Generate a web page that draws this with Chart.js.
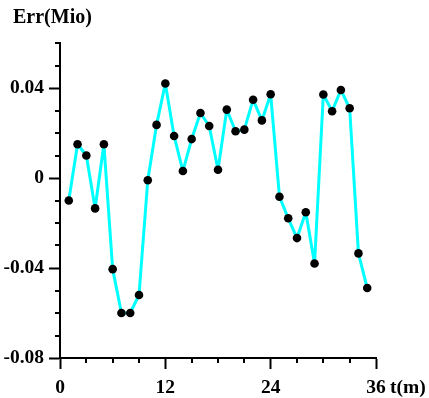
<!DOCTYPE html>
<html>
<head>
<meta charset="utf-8">
<script src="https://cdn.jsdelivr.net/npm/chart.js@4/dist/chart.umd.min.js"></script>
<style>
html,body{margin:0;padding:0;background:#fff;}
canvas{display:block;}
</style>
</head>
<body>
<canvas id="c" width="429" height="398"></canvas>
<script>
// ---- data ----
const tValues = [1,2,3,4,5,6,7,8,9,10,11,12,13,14,15,16,17,18,19,20,21,22,23,24,25,26,27,28,29,30,31,32,33,34,35];
const errValues = [-0.010, 0.015, 0.010, -0.0135, 0.015, -0.0405, -0.060, -0.060, -0.052, -0.001,
                   0.0236, 0.042, 0.0187, 0.0031, 0.0173, 0.0289, 0.0231, 0.0037, 0.0304, 0.0208,
                   0.0215, 0.0348, 0.0256, 0.0372, -0.0083, -0.0179, -0.0267, -0.0152, -0.038, 0.0371,
                   0.0297, 0.0391, 0.031, -0.0335, -0.0489];
const xMajorTicks = [0, 12, 24, 36];
const yMajorTicks = [-0.08, -0.04, 0, 0.04];
const xMinorTicks = [3, 6, 9, 15, 18, 21, 27, 30, 33];
const yMinorTicks = [-0.07, -0.06, -0.05, -0.03, -0.02, -0.01, 0.01, 0.02, 0.03, 0.05, 0.06];
const yTitle = 'Err(Mio)';
const xTitle = 't(m)';

const FONT_FAMILY = '"Liberation Serif", "Times New Roman", serif';
const FS = 19.5;

const points = tValues.map((t, i) => ({x: t, y: errValues[i]}));

const extras = {
  id: 'extras',
  afterDraw(chart) {
    const ctx = chart.ctx;
    const xs = chart.scales.x, ys = chart.scales.y;
    const ca = chart.chartArea;
    ctx.save();
    ctx.strokeStyle = '#000';
    ctx.lineWidth = 2;
    ctx.beginPath();
    yMinorTicks.forEach(v => {
      const py = Math.round(ys.getPixelForValue(v)) ;
      ctx.moveTo(ca.left - 5, py);
      ctx.lineTo(ca.left, py);
    });
    xMinorTicks.forEach(v => {
      const px = Math.round(xs.getPixelForValue(v));
      ctx.moveTo(px, ca.bottom);
      ctx.lineTo(px, ca.bottom + 5);
    });
    ctx.stroke();
    ctx.fillStyle = '#000';
    ctx.font = 'bold 20px ' + FONT_FAMILY;
    ctx.textAlign = 'left';
    ctx.textBaseline = 'alphabetic';
    ctx.fillText(yTitle, 13, 23);
    ctx.font = 'bold ' + FS + 'px ' + FONT_FAMILY;
    ctx.fillText(xTitle, xs.getPixelForValue(36) + 14, 393);
    ctx.restore();
  }
};

new Chart(document.getElementById('c'), {
  type: 'line',
  data: {
    datasets: [{
      data: points,
      borderColor: '#00FFFF',
      borderWidth: 3,
      borderJoinStyle: 'round',
      borderCapStyle: 'round',
      pointBackgroundColor: '#000',
      pointBorderColor: '#000',
      pointRadius: 4.3,
      pointBorderWidth: 0,
      tension: 0,
      fill: false
    }]
  },
  options: {
    responsive: false,
    animation: false,
    devicePixelRatio: 1,
    layout: {padding: {top: 43, right: 53, bottom: 0, left: 0}},
    plugins: {legend: {display: false}, tooltip: {enabled: false}, title: {display: false}},
    scales: {
      x: {
        type: 'linear',
        min: 0, max: 36,
        afterBuildTicks: s => { s.ticks = xMajorTicks.map(v => ({value: v})); },
        afterFit: s => { s.height = 40; },
        ticks: {
          color: '#000',
          padding: 7,
          maxRotation: 0,
          autoSkip: false,
          font: {family: FONT_FAMILY, size: FS, weight: 'bold'},
          callback: v => String(v)
        },
        grid: {drawOnChartArea: false, tickLength: 11, tickColor: '#000', tickWidth: 2},
        border: {display: true, color: '#000', width: 2}
      },
      y: {
        type: 'linear',
        min: -0.08, max: 0.06,
        afterBuildTicks: s => { s.ticks = yMajorTicks.map(v => ({value: v})); },
        afterFit: s => { s.width = 60; },
        ticks: {
          color: '#000',
          padding: 5,
          autoSkip: false,
          font: {family: FONT_FAMILY, size: FS, weight: 'bold'},
          callback: v => (Math.abs(v) < 1e-9 ? '0' : v.toFixed(2))
        },
        grid: {drawOnChartArea: false, tickLength: 11, tickColor: '#000', tickWidth: 2},
        border: {display: true, color: '#000', width: 2}
      }
    }
  },
  plugins: [extras]
});
</script>
</body>
</html>
